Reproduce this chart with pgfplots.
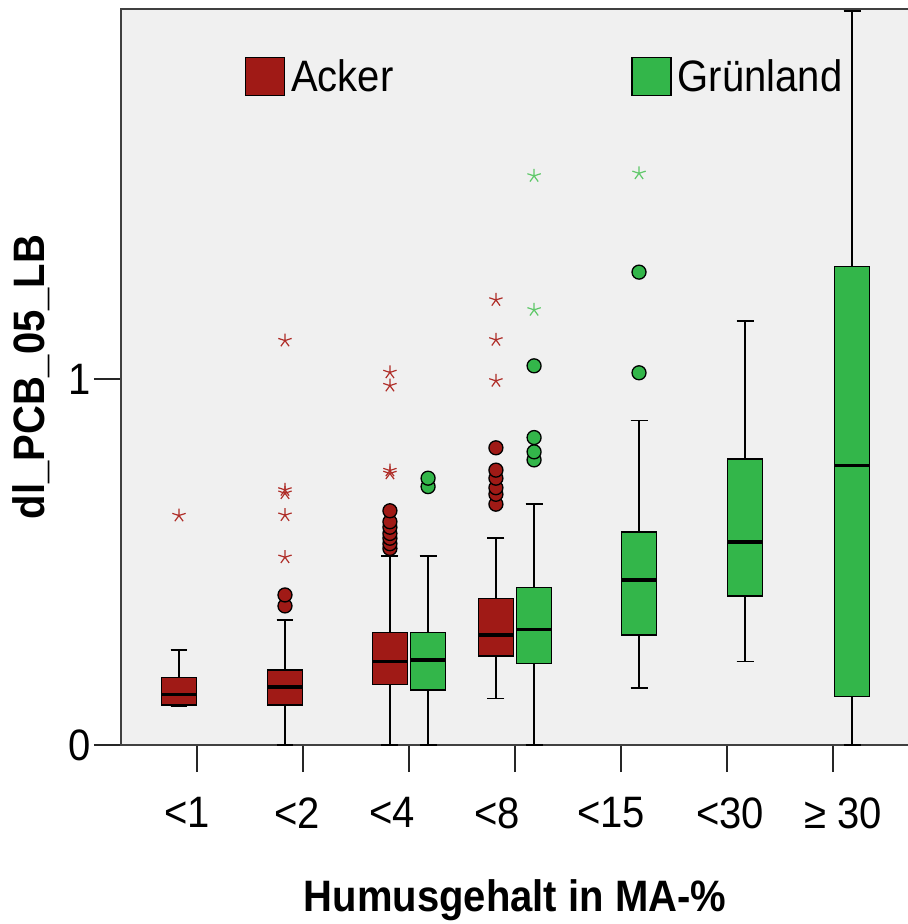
\documentclass[border=0pt]{standalone}
\usepackage{pgfplots}
\pgfplotsset{compat=1.18}
\usepgfplotslibrary{statistics}
\usepackage{fontspec}
\setmainfont{Liberation Sans}
\definecolor{ackred}{RGB}{160,26,22}
\definecolor{gruen}{RGB}{51,182,74}
\definecolor{ackstar}{RGB}{175,45,40}
\definecolor{gruenstar}{RGB}{95,200,105}
\definecolor{bgc}{RGB}{240,240,240}
\newcommand{\bigf}{\fontsize{40bp}{48bp}\selectfont}
\newcommand{\st}[1]{\scalebox{1}[1.1]{#1}}
\pgfplotsset{
  bxcommon/.style={draw=black, line width=1.4bp,
    boxplot/draw direction=y,
    boxplot/box extend=0.33, boxplot/whisker extend=0.16,
    boxplot/every median/.style={line width=3.5bp, draw=black},
    boxplot/every whisker/.style={line width=1.6bp, draw=black},
    forget plot},
  ackbox/.style={bxcommon, fill=ackred},
  grbox/.style={bxcommon, fill=gruen},
  ackcirc/.style={only marks, mark=*, mark size=7bp, mark options={fill=ackred, draw=black, line width=1.3bp}, forget plot},
  grcirc/.style={only marks, mark=*, mark size=7bp, mark options={fill=gruen, draw=black, line width=1.3bp}, forget plot},
  ackstarm/.style={only marks, mark=star, mark size=7bp, mark options={draw=ackstar, line width=1.2bp}, forget plot},
  grstarm/.style={only marks, mark=star, mark size=7bp, mark options={draw=gruenstar, line width=1.2bp}, forget plot},
}
\begin{document}
\begin{tikzpicture}
\useasboundingbox (0,0) rectangle (908bp,924bp);
\begin{axis}[
  at={(121bp,179bp)}, anchor=south west,
  scale only axis, width=788bp, height=736bp,
  xmin=-0.717, xmax=6.717, ymin=0, ymax=2.011,
  axis background/.style={fill=bgc},
  xtick={0,...,6},
  xticklabels={{\st{<1}\hspace*{20bp}},{\st{<2}\hspace*{12bp}},{\st{<4}\hspace*{34bp}},{\st{<8}\hspace*{36bp}},{\st{<15}\hspace*{20bp}},{\hspace*{6bp}\st{<30}},{\hspace*{20bp}\st{≥ 30}}},
  ytick={0,1},
  yticklabels={\st{0},\st{1}},
  xtick pos=bottom, ytick pos=left,
  tick align=outside, major tick length=27bp,
  tick style={black!85, line width=1.3bp},
  axis line style={black!75, line width=1.3bp},
  tick label style={font=\bigf},
  xticklabel style={yshift=-22bp},
  label style={font=\bigf},
  xlabel={\st{\bfseries Humusgehalt in MA-\%}},
  ylabel={\st{\bfseries dl\_PCB\_05\_LB}},
  xlabel style={at={(axis description cs:0.5,-0.2106)}, anchor=center},
  ylabel style={at={(axis description cs:-0.114,0.5)}, anchor=center},
  legend columns=2,
  legend style={at={(0.157,0.935)}, anchor=north west, draw=none, fill=none, inner sep=0pt,
    font=\bigf, nodes={inner sep=0pt},
    /tikz/every odd column/.append style={column sep=6bp},
    /tikz/every even column/.append style={column sep=238bp}},
  legend image code/.code={\draw[#1, line width=1.3bp] (0bp,-19bp) rectangle (39bp,19bp);},
]
\addlegendimage{fill=ackred, draw=black}
\addlegendentry{\st{Acker}}
\addlegendimage{fill=gruen, draw=black}
\addlegendentry{\st{Grünland}}

% Acker
\addplot[ackbox, boxplot prepared={draw position=-0.17, lower whisker=0.105, lower quartile=0.109, median=0.138, upper quartile=0.184, upper whisker=0.26}] coordinates {};
\addplot[ackbox, boxplot prepared={draw position=0.83, lower whisker=0, lower quartile=0.109, median=0.159, upper quartile=0.205, upper whisker=0.342}] coordinates {};
\addplot[ackbox, boxplot prepared={draw position=1.82, lower whisker=0, lower quartile=0.166, median=0.228, upper quartile=0.307, upper whisker=0.517}] coordinates {};
\addplot[ackbox, boxplot prepared={draw position=2.82, lower whisker=0.127, lower quartile=0.243, median=0.300, upper quartile=0.400, upper whisker=0.565}] coordinates {};

\addplot[ackcirc] coordinates {(0.83,0.38) (0.83,0.41)
  (1.82,0.537) (1.82,0.550) (1.82,0.565) (1.82,0.578) (1.82,0.595) (1.82,0.610) (1.82,0.640)
  (2.82,0.658) (2.82,0.685) (2.82,0.703) (2.82,0.729) (2.82,0.751) (2.82,0.812)};
\addplot[ackstarm] coordinates {(-0.17,0.627)
  (0.83,0.513) (0.83,0.628) (0.83,0.688) (0.83,0.697) (0.83,1.105)
  (1.82,0.742) (1.82,0.750) (1.82,0.982) (1.82,1.018)
  (2.82,0.995) (2.82,1.107) (2.82,1.216)};

% Gruenland
\addplot[grbox, boxplot prepared={draw position=2.18, lower whisker=0, lower quartile=0.150, median=0.232, upper quartile=0.307, upper whisker=0.517}] coordinates {};
\addplot[grbox, boxplot prepared={draw position=3.18, lower whisker=0, lower quartile=0.223, median=0.316, upper quartile=0.431, upper whisker=0.659}] coordinates {};
\addplot[grbox, boxplot prepared={draw position=4.17, lower whisker=0.155, lower quartile=0.301, median=0.451, upper quartile=0.582, upper whisker=0.887}] coordinates {};
\addplot[grbox, boxplot prepared={draw position=5.17, lower whisker=0.228, lower quartile=0.407, median=0.555, upper quartile=0.781, upper whisker=1.158}] coordinates {};
\addplot[grbox, boxplot prepared={draw position=6.18, lower whisker=0, lower quartile=0.133, median=0.763, upper quartile=1.307, upper whisker=2.006}] coordinates {};

\addplot[grcirc] coordinates {(2.18,0.706) (2.18,0.729)
  (3.18,0.779) (3.18,0.801) (3.18,0.840) (3.18,1.036)
  (4.17,1.017) (4.17,1.292)};
\addplot[grstarm] coordinates {(3.18,1.189) (3.18,1.555) (4.17,1.562)};
\end{axis}
\end{tikzpicture}
\end{document}
